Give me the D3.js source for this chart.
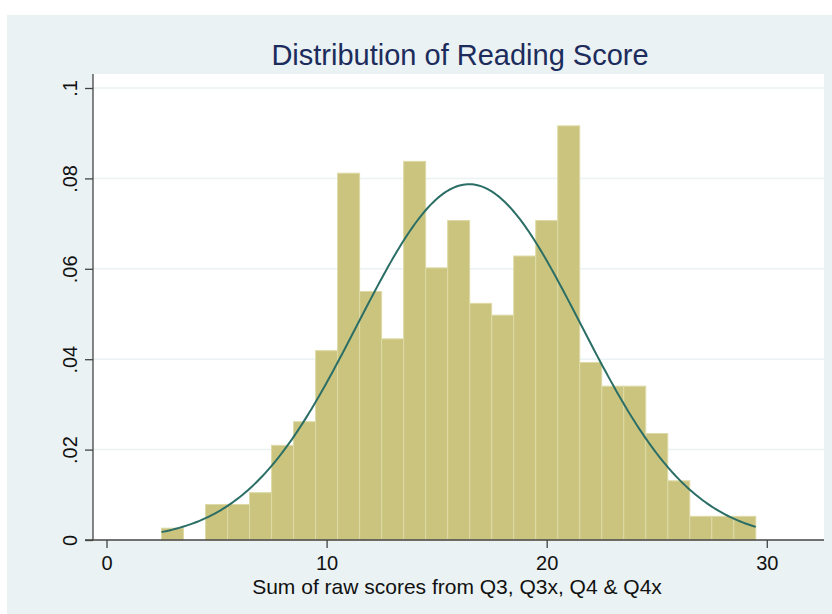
<!DOCTYPE html>
<html>
<head>
<meta charset="utf-8">
<script src="https://cdn.jsdelivr.net/npm/d3@7"></script>
<style>
  body { margin: 0; background: #fff; }
  text { font-family: "Liberation Sans", Arial, sans-serif; }
</style>
</head>
<body>
<svg id="canvas" width="832" height="614"></svg>
<script>
// score bins (centre of each 1-wide bin) and counts
let scores = [3, 4, 5, 6, 7, 8, 9, 10, 11, 12, 13, 14, 15, 16, 17, 18, 19, 20, 21, 22, 23, 24, 25, 26, 27, 28, 29]
let counts = [1, 0, 3, 3, 4, 8, 10, 16, 31, 21, 17, 32, 23, 27, 20, 19, 24, 27, 35, 15, 13, 13, 9, 5, 2, 2, 2]
let xTicks = [0, 10, 20, 30]
let yTicks = [0, 0.02, 0.04, 0.06, 0.08, 0.1]
let yTickLabels = ['0', '.02', '.04', '.06', '.08', '.1']

let title = 'Distribution of Reading Score'
let xTitle = 'Sum of raw scores from Q3, Q3x, Q4 & Q4x'

let canvas = d3.select('#canvas')

let plotLeft = 93, plotRight = 824, plotTop = 74, plotBottom = 540

let x = d3.scaleLinear().domain([0, 30]).range([106.5, 766.8])
let y = d3.scaleLinear().domain([0, 0.1]).range([plotBottom, 88])

let total = d3.sum(counts)
let bins = scores.map((s, i) => ({ x0: s - 0.5, x1: s + 0.5, density: counts[i] / total }))

// mean / sd of the scores for the normal overlay
let mean = d3.sum(scores, (s, i) => s * counts[i]) / total
let variance = d3.sum(scores, (s, i) => counts[i] * (s - mean) * (s - mean)) / (total - 1)
let sd = Math.sqrt(variance)

// outer background
canvas.append('rect')
  .attr('x', 7).attr('y', 15)
  .attr('width', 825).attr('height', 599)
  .attr('fill', '#eaf2f3')

// plot region
canvas.append('rect')
  .attr('x', plotLeft).attr('y', plotTop)
  .attr('width', plotRight - plotLeft).attr('height', plotBottom - plotTop)
  .attr('fill', '#ffffff')

// grid lines
canvas.selectAll('.grid')
  .data(yTicks.filter(d => d > 0))
  .enter()
  .append('line')
  .attr('class', 'grid')
  .attr('x1', plotLeft).attr('x2', plotRight)
  .attr('y1', d => y(d)).attr('y2', d => y(d))
  .attr('stroke', '#eaf2f3')
  .attr('stroke-width', 1.5)

// bars
canvas.selectAll('.bar')
  .data(bins.filter(b => b.density > 0))
  .enter()
  .append('rect')
  .attr('class', 'bar')
  .attr('x', b => x(b.x0))
  .attr('width', b => x(b.x1) - x(b.x0))
  .attr('y', b => y(b.density))
  .attr('height', b => y(0) - y(b.density))
  .attr('fill', '#cbc47f')
  .attr('stroke', '#dedaa6')
  .attr('stroke-width', 1)

// normal density curve
let normal = (v) => Math.exp(-0.5 * ((v - mean) / sd) ** 2) / (sd * Math.sqrt(2 * Math.PI))
let curvePts = d3.range(2.5, 29.5001, 0.1).map(v => [v, normal(v)])
canvas.append('path')
  .datum(curvePts)
  .attr('d', d3.line().x(d => x(d[0])).y(d => y(d[1])))
  .attr('fill', 'none')
  .attr('stroke', '#2b6e66')
  .attr('stroke-width', 2)

// y axis
let yAxis = d3.axisLeft(y)
  .tickValues(yTicks)
  .tickFormat((d, i) => yTickLabels[i])
  .tickSize(8)
  .tickSizeOuter(0)
let gy = canvas.append('g').attr('transform', `translate(${plotLeft},0)`).call(yAxis)
gy.select('.domain').remove()
gy.append('line')
  .attr('x1', 0).attr('x2', 0)
  .attr('y1', plotTop).attr('y2', plotBottom)
  .attr('stroke', '#444')
  .attr('stroke-width', 1.3)
gy.selectAll('.tick line').attr('stroke', '#444').attr('stroke-width', 1.3)
gy.selectAll('.tick text')
  .attr('font-size', 20)
  .attr('fill', '#111')
  .attr('text-anchor', 'middle')
  .attr('x', 0)
  .attr('y', 0)
  .attr('dy', 0)
  .attr('transform', 'translate(-16,0) rotate(-90)')

// x axis
let xAxis = d3.axisBottom(x)
  .tickValues(xTicks)
  .tickFormat(d3.format('d'))
  .tickSize(8)
  .tickSizeOuter(0)
let gx = canvas.append('g').attr('transform', `translate(0,${plotBottom})`).call(xAxis)
gx.select('.domain').remove()
gx.append('line')
  .attr('x1', 85).attr('x2', plotRight)
  .attr('y1', 0).attr('y2', 0)
  .attr('stroke', '#444')
  .attr('stroke-width', 1.5)
gx.selectAll('.tick line').attr('stroke', '#444').attr('stroke-width', 1.3)
gx.selectAll('.tick text')
  .attr('font-size', 20)
  .attr('fill', '#111')
  .attr('y', 30)
  .attr('dy', 0)

// titles
canvas.append('text')
  .attr('x', 460).attr('y', 65)
  .attr('text-anchor', 'middle')
  .attr('font-size', 29)
  .attr('fill', '#1c2c5c')
  .text(title)

canvas.append('text')
  .attr('x', 457).attr('y', 594)
  .attr('text-anchor', 'middle')
  .attr('font-size', 21)
  .attr('fill', '#111')
  .text(xTitle)
</script>
</body>
</html>
